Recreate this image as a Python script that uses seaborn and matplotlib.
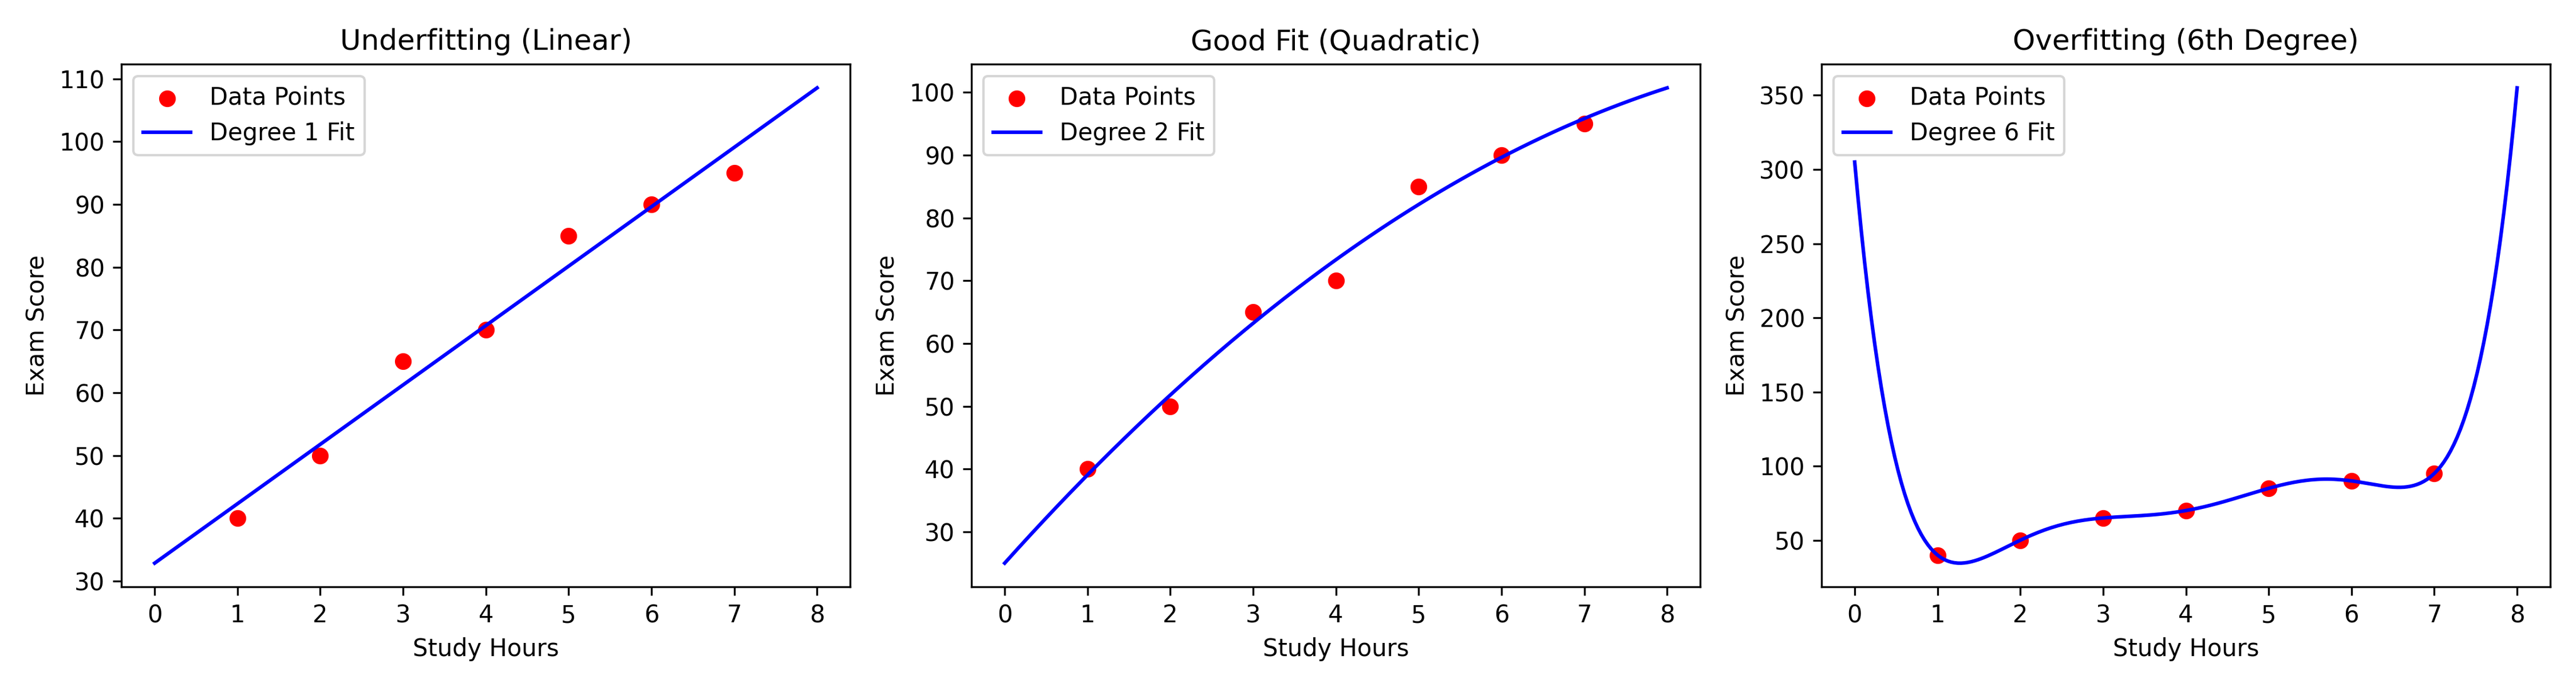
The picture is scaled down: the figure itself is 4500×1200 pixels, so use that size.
import numpy as np
import matplotlib.pyplot as plt
import seaborn as sns

# Study hours vs exam score
study_hours = [1, 2, 3, 4, 5, 6, 7]
exam_scores = [40, 50, 65, 70, 85, 90, 95]

degrees = [1, 2, 6]
titles = ["Underfitting (Linear)", "Good Fit (Quadratic)", "Overfitting (6th Degree)"]

x = np.array(study_hours)
y = np.array(exam_scores)
x_fit = np.linspace(0, 8, 200)

fig, axes = plt.subplots(1, 3, figsize=(15, 4))

for ax, deg, title in zip(axes, degrees, titles):
    coeffs = np.polyfit(x, y, deg)
    y_fit = np.polyval(coeffs, x_fit)

    # points first, fit line drawn on top
    sns.scatterplot(x=x, y=y, color='red', s=36, edgecolor='red', linewidth=1,
                    label="Data Points", ax=ax)
    sns.lineplot(x=x_fit, y=y_fit, color='blue', sort=False,
                 label=f"Degree {deg} Fit", ax=ax)

    ax.set_title(title)
    ax.set_xlabel("Study Hours")
    ax.set_ylabel("Exam Score")
    ax.legend(loc='upper left')

plt.tight_layout()
plt.savefig("out.png", dpi=300)
